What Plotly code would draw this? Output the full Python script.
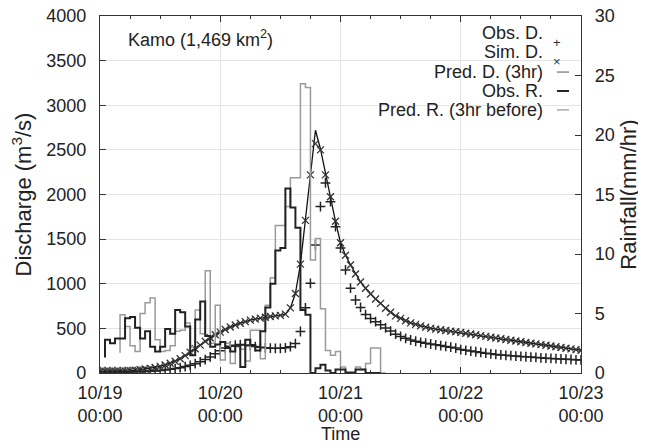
import pandas as pd
import plotly.graph_objects as go

# Kamo river, typhoon flood Oct 2004 - hourly values
start = pd.Timestamp('2004-10-19 00:00')

# discharge (m3/s), hourly from 10/19 00:00 to 10/23 00:00
obs_d = [15, 15, 15, 15, 15, 15, 15, 16, 17, 18,
         20, 23, 28, 34, 42, 50, 60, 72, 86, 104,
         125, 150, 180, 215, 250, 280, 300, 312, 318, 315,
         306, 296, 288, 282, 278, 276, 277, 282, 295, 330,
         465, 730, 1005, 1435, 1865, 2130, 1920, 1640, 1400, 1155,
         950, 818, 735, 655, 610, 575, 540, 505, 470, 435,
         410, 388, 370, 356, 344, 334, 325, 316, 307, 298,
         289, 279, 262, 254, 246, 238, 230, 222, 215, 208,
         202, 198, 194, 190, 186, 182, 178, 174, 170, 166,
         163, 160, 157, 154, 151, 148, 146]
sim_d = [20, 20, 20, 20, 20, 22, 25, 30, 36, 44,
         52, 62, 74, 90, 110, 132, 160, 195, 232, 272,
         312, 355, 395, 428, 458, 488, 515, 538, 558, 576,
         592, 604, 615, 625, 633, 640, 646, 660, 730, 890,
         1220, 1710, 2220, 2570, 2500, 2220, 1975, 1700, 1460, 1320,
         1210, 1110, 1020, 950, 885, 830, 780, 725, 680, 640,
         612, 585, 562, 545, 528, 513, 500, 492, 484, 476,
         469, 462, 455, 446, 437, 428, 419, 410, 401, 392,
         384, 375, 367, 358, 350, 342, 334, 326, 318, 310,
         302, 294, 286, 278, 270, 262, 255]
pred_d = [20, 20, 20, 20, 20, 22, 25, 30, 36, 44,
          52, 62, 74, 90, 110, 132, 160, 195, 232, 272,
          312, 355, 395, 428, 458, 488, 515, 538, 558, 576,
          592, 604, 615, 625, 633, 640, 646, 660, 730, 890,
          1220, 1700, 2230, 2720, 2510, 2230, 1975, 1700, 1460, 1320,
          1210, 1110, 1020, 950, 885, 830, 780, 725, 680, 640,
          612, 585, 562, 545, 528, 513, 500, 492, 484, 476,
          469, 462, 455, 446, 437, 428, 419, 410, 401, 392,
          384, 375, 367, 358, 350, 342, 334, 326, 318, 310,
          302, 294, 286, 278, 270, 262, 255]

# rainfall (mm/hr), value at hour k = rain during the hour ending at k
obs_r_start = 1
obs_r = [1.3, 2.8, 2.5, 2.9, 2.9, 4.6, 4.7, 3.8, 2.9, 3.5,
         2.2, 1.8, 2.2, 3.7, 3.3, 5.3, 5.1, 3.9, 1.5, 4.5,
         6.0, 3.1, 2.2, 2.4, 2.6, 2.1, 1.8, 2.3, 0.5, 2.8,
         2.35, 1.9, 3.5, 5.5, 7.5, 10.3, 10.5, 15.5, 13.9, 12.2,
         5.3, 4.9, 0, 0.4, 0.7, 0.2, 0, 0.3, 0.3, 0,
         0, 0.3, 0.3, 0, 0, 0]
pred_r_start = 4
pred_r = [1.7, 4.9, 3.9, 2.3, 1.8, 5.0, 5.9, 6.3, 2.8, 1.8,
          1.9, 2.3, 3.5, 3.6, 4.2, 2.2, 5.3, 3.3, 8.6, 2.5,
          5.7, 1.1, 2.5, 0.8, 2.2, 2.0, 1.0, 3.6, 3.6, 1.2,
          5.7, 8.0, 12.4, 12.4, 14.0, 16.4, 16.4, 24.3, 24.0, 9.5,
          11.3, 5.4, 1.9, 1.5, 1.8, 0.5, 0.1, 0.1, 0.5, 0.3,
          0.8, 2.1, 2.1, 0]

t_d = pd.date_range(start, periods=len(obs_d), freq='h')
t_obs_r = [start + pd.Timedelta(hours=obs_r_start + i) for i in range(len(obs_r))]
t_pred_r = [start + pd.Timedelta(hours=pred_r_start + i) for i in range(len(pred_r))]

font = "Liberation Sans, Arial, sans-serif"
ink = "#222"

fig = go.Figure()
fig.add_trace(go.Scatter(x=t_pred_r, y=pred_r, yaxis='y2', mode='lines',
                         line=dict(color='#9a9a9a', width=1.5, shape='vh')))
fig.add_trace(go.Scatter(x=t_obs_r, y=obs_r, yaxis='y2', mode='lines',
                         line=dict(color='#222', width=2, shape='vh')))
fig.add_trace(go.Scatter(x=t_d, y=pred_d, mode='lines',
                         line=dict(color='#111', width=1.3)))
fig.add_trace(go.Scatter(x=t_d, y=sim_d, mode='markers',
                         marker=dict(symbol='x-thin', size=7, line=dict(width=1.3, color='#333'))))
fig.add_trace(go.Scatter(x=t_d, y=obs_d, mode='markers',
                         marker=dict(symbol='cross-thin', size=7, line=dict(width=1.5, color='#222'))))

# key, gnuplot style: text on the left, sample on the right
key_labels = ["Obs. D.", "Sim. D.", "Pred. D. (3hr)", "Obs. R.", "Pred. R. (3hr before)"]
key_y = [0.952, 0.899, 0.843, 0.790, 0.737]
annotations = []
for lab, ky in zip(key_labels, key_y):
    annotations.append(dict(x=0.925, y=ky, xref='paper', yref='paper', text=lab,
                            showarrow=False, xanchor='right', yanchor='middle',
                            font=dict(family=font, size=18, color=ink)))
annotations.append(dict(x=0.9626, y=key_y[0], xref='paper', yref='paper', text='+',
                        showarrow=False, font=dict(family=font, size=13, color='#333')))
annotations.append(dict(x=0.9626, y=key_y[1], xref='paper', yref='paper', text='×',
                        showarrow=False, font=dict(family=font, size=13, color='#333')))
annotations.append(dict(x=0.054, y=0.938, xref='paper', yref='paper',
                        text='Kamo (1,469 km<sup>2</sup>)', showarrow=False,
                        xanchor='left', yanchor='middle',
                        font=dict(family=font, size=18, color=ink)))
# x axis title, placed by hand so it sits low like the original
annotations.append(dict(x=0.5, y=-0.172, xref='paper', yref='paper', text='Time',
                        showarrow=False, xanchor='center', yanchor='middle',
                        font=dict(family=font, size=18, color=ink)))

shapes = [dict(type='rect', xref='paper', yref='paper', x0=0.43, x1=1, y0=0.71, y1=1,
               fillcolor='white', line=dict(width=0), layer='between')]
for ky, col, w in zip(key_y[2:], ['#555', '#222', '#aaa'], [1, 2, 1.5]):
    shapes.append(dict(type='line', xref='paper', yref='paper', x0=0.950, x1=0.975,
                       y0=ky, y1=ky, line=dict(color=col, width=w)))

# the page body adds an 8px margin, so the figure is 8px smaller than the window
fig.update_layout(
    width=638, height=440,
    margin=dict(l=92, r=65, t=8, b=75),
    paper_bgcolor='white', plot_bgcolor='white',
    showlegend=False,
    font=dict(family=font, size=18, color=ink),
    annotations=annotations, shapes=shapes,
    xaxis=dict(type='date',
               range=[start, start + pd.Timedelta(days=4)],
               tick0=start, dtick=86400000, tickformat='%m/%d<br>%H:%M',
               ticks='inside', ticklen=6, tickcolor='#333',
               minor=dict(dtick=21600000, ticks='inside', ticklen=3, tickcolor='#333', showgrid=False),
               showline=True, linecolor='#333', linewidth=1.2, mirror='ticks',
               showgrid=True, gridcolor='#e4e4e4', gridwidth=1,
               ticklabelstandoff=3, ticklabeloverflow='allow', automargin=False),
    yaxis=dict(range=[0, 4000], dtick=500, ticks='inside', ticklen=6, tickcolor='#333',
               showline=True, linecolor='#333', linewidth=1.2, mirror=True,
               showgrid=True, gridcolor='#e4e4e4', gridwidth=1, zeroline=False,
               ticklabelstandoff=9, ticklabeloverflow='allow',
               title=dict(text='Discharge (m<sup>3</sup>/s)', standoff=8), automargin=False),
    yaxis2=dict(range=[0, 30], dtick=5, overlaying='y', side='right',
                ticks='inside', ticklen=6, tickcolor='#333',
                showline=True, linecolor='#333', linewidth=1.2,
                showgrid=False, zeroline=False,
                ticklabelstandoff=9, ticklabeloverflow='allow',
                title=dict(text='Rainfall(mm/hr)', standoff=6), automargin=False),
)

fig.write_html("out.html")
